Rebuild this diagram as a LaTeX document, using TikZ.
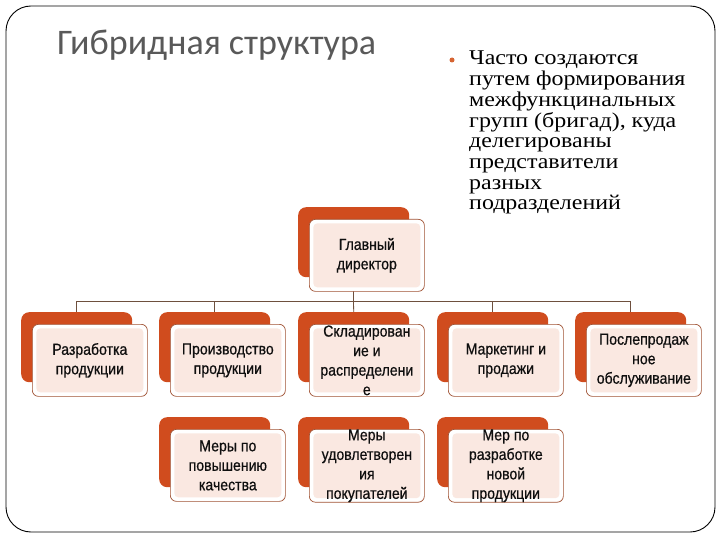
\documentclass[tikz,border=0pt]{standalone}
\usepackage{fontspec}
\setmainfont{Liberation Serif}
\newfontfamily\titlefont{Carlito}
\newfontfamily\bodyfont[FakeStretch=1.14]{Liberation Serif}
\newfontfamily\boxfont[FakeStretch=0.88,FakeBold=0.6]{Liberation Sans}
\usetikzlibrary{backgrounds}
\definecolor{backc}{RGB}{208,76,30}
\definecolor{boxline}{RGB}{160,82,52}
\definecolor{pinkin}{RGB}{250,232,225}
\definecolor{connc}{RGB}{110,80,62}
\definecolor{textc}{RGB}{15,15,15}
\definecolor{titlec}{RGB}{89,89,89}
\definecolor{bulletc}{RGB}{214,100,50}
\begin{document}
\begin{tikzpicture}[x=1pt,y=-1pt,
  backbox/.style={fill=backc, rounded corners=8pt, minimum width=111pt, minimum height=70pt, inner sep=0pt, anchor=north west},
  frontbox/.style={draw=boxline, line width=0.7pt, fill=white, rounded corners=6pt,
    minimum width=115pt, minimum height=72pt, inner sep=0pt, anchor=north west, align=center,
    font=\boxfont\fontsize{16pt}{19.5pt}\selectfont, text=textc,
    path picture={\fill[pinkin, rounded corners=4pt] ([shift={(4pt,-4pt)}]path picture bounding box.north west) rectangle ([shift={(-4pt,4pt)}]path picture bounding box.south east);}},
  conn/.style={draw=connc, line width=0.8pt}]
\useasboundingbox (0,0) rectangle (720,540);
\draw[line width=0.9pt, rounded corners=25pt] (6,6) rectangle (715,532);

\node[anchor=base west, inner sep=0pt, font=\titlefont\fontsize{36pt}{42pt}\selectfont, text=titlec] (title) at (57,55) {Гибридная структура};

\node[circle, fill=bulletc, minimum size=5pt, inner sep=0pt] (bul) at (452,60) {};
\node[anchor=north west, inner sep=0pt, align=left, font=\bodyfont\fontsize{21pt}{20.7pt}\selectfont] (txt) at (469,51)
  {Часто создаются\\путем формирования\\межфункцинальных\\групп (бригад), куда\\делегированы\\представители\\разных\\подразделений};

% back boxes
\node[backbox] (gd) at (298,207) {};
\node[backbox] (r1) at (21,312) {};
\node[backbox] (r2) at (159,312) {};
\node[backbox] (r3) at (298,312) {};
\node[backbox] (r4) at (437,312) {};
\node[backbox] (r5) at (575,312) {};
\node[backbox] (s2) at (159,417) {};
\node[backbox] (s3) at (298,417) {};
\node[backbox] (s4) at (437,417) {};

% front boxes
\node[frontbox] (gdf) at ([shift={(11,12)}]gd.north west) {Главный\\директор};
\node[frontbox] (r1f) at ([shift={(11,12)}]r1.north west) {Разработка\\продукции};
\node[frontbox] (r2f) at ([shift={(11,12)}]r2.north west) {Производство\\продукции};
\node[frontbox] (r3f) at ([shift={(11,12)}]r3.north west) {Складирован\\ие и\\распределени\\е};
\node[frontbox] (r4f) at ([shift={(11,12)}]r4.north west) {Маркетинг и\\продажи};
\node[frontbox] (r5f) at ([shift={(11,12)}]r5.north west) {Послепродаж\\ное\\обслуживание};
\node[frontbox] (s2f) at ([shift={(11,12)}]s2.north west) {Меры по\\повышению\\качества};
\node[frontbox] (s3f) at ([shift={(11,12)}]s3.north west) {Меры\\удовлетворен\\ия\\покупателей};
\node[frontbox] (s4f) at ([shift={(11,12)}]s4.north west) {Мер по\\разработке\\новой\\продукции};

\coordinate (bus) at (353.5,301);
\begin{scope}[on background layer]
\draw[conn] (gd.south) -- (bus);
\draw[conn] (r1.north) |- (bus);
\draw[conn] (r2.north) |- (bus);
\draw[conn] (r3.north) -- (bus);
\draw[conn] (r4.north) |- (bus);
\draw[conn] (r5.north) |- (bus);
\end{scope}
\end{tikzpicture}
\end{document}
